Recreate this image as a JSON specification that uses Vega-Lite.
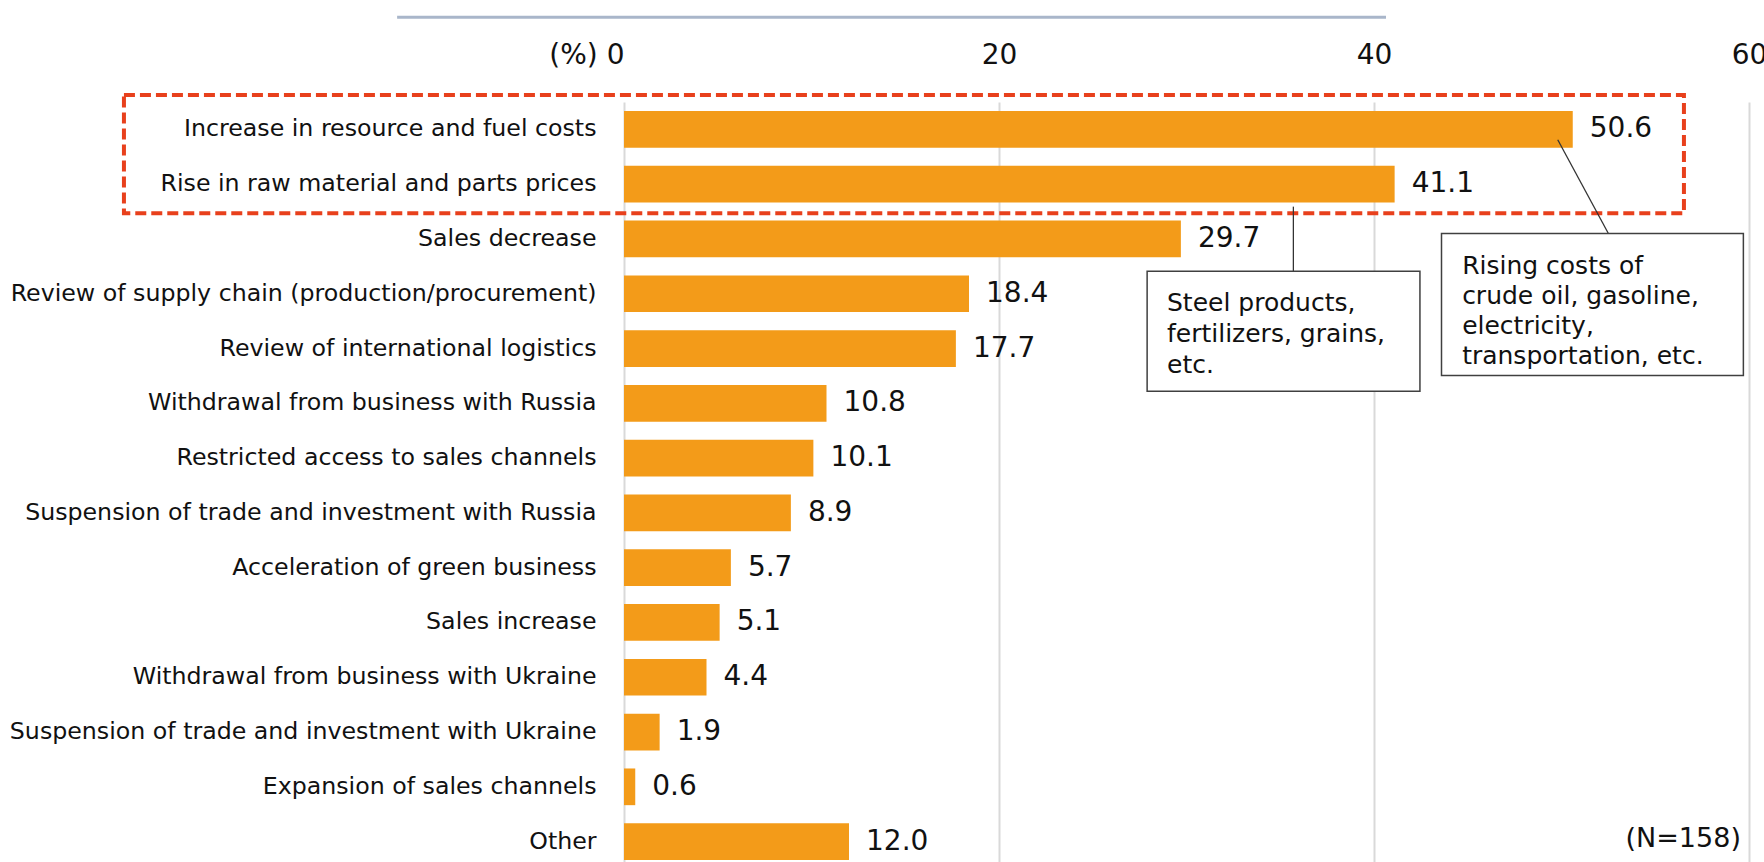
{
  "$schema": "https://vega.github.io/schema/vega-lite/v6.json",
  "width": 1125,
  "height": 760,
  "autosize": {"type": "none"},
  "padding": {"left": 624, "top": 102, "right": 15, "bottom": 0},
  "background": "white",
  "config": {
    "font": "DejaVu Sans",
    "view": {"stroke": null},
    "axis": {"labelFont": "DejaVu Sans", "labelColor": "#111111"}
  },
  "datasets": {
    "bars": [
      {"item": "Increase in resource and fuel costs", "pct": 50.6},
      {"item": "Rise in raw material and parts prices", "pct": 41.1},
      {"item": "Sales decrease", "pct": 29.7},
      {"item": "Review of supply chain (production/procurement)", "pct": 18.4},
      {"item": "Review of international logistics", "pct": 17.7},
      {"item": "Withdrawal from business with Russia", "pct": 10.8},
      {"item": "Restricted access to sales channels", "pct": 10.1},
      {"item": "Suspension of trade and investment with Russia", "pct": 8.9},
      {"item": "Acceleration of green business", "pct": 5.7},
      {"item": "Sales increase", "pct": 5.1},
      {"item": "Withdrawal from business with Ukraine", "pct": 4.4},
      {"item": "Suspension of trade and investment with Ukraine", "pct": 1.9},
      {"item": "Expansion of sales channels", "pct": 0.6},
      {"item": "Other", "pct": 12.0}
    ],
    "highlight": [{"x": -26.67, "x2": 56.53, "y": -0.13, "y2": 2.03}],
    "boxes": [
      {"x": 27.9, "x2": 42.45, "y": 3.09, "y2": 5.28},
      {"x": 43.6, "x2": 59.7, "y": 2.40, "y2": 4.99}
    ],
    "leaders": [
      {"x": 35.7, "x2": 35.7, "y": 1.91, "y2": 3.09},
      {"x": 49.8, "x2": 52.5, "y": 0.69, "y2": 2.40}
    ],
    "titleline": [{"x": -12.1, "x2": 40.64, "y": -1.545, "y2": -1.545}],
    "note1": [{"x": 28.96, "y": 3.67, "t": "Steel products,|fertilizers, grains,|etc."}],
    "note2": [{"x": 44.7, "y": 2.99, "t": "Rising costs of|crude oil, gasoline,|electricity,|transportation, etc."}],
    "nlabel": [{"x": 59.57, "y": 13.45, "t": "(N=158)"}]
  },
  "layer": [
    {
      "data": {"name": "bars"},
      "encoding": {
        "y": {
          "field": "item",
          "type": "nominal",
          "sort": null,
          "scale": {"paddingInner": 0.33, "paddingOuter": 0.165, "range": [0, 767]},
          "axis": {
            "title": null,
            "domain": false,
            "ticks": false,
            "labelFontSize": 23.7,
            "labelPadding": 28,
            "labelLimit": 800
          }
        },
        "x": {
          "field": "pct",
          "type": "quantitative",
          "scale": {"domain": [0, 60], "nice": false, "zero": true},
          "axis": {
            "orient": "top",
            "title": null,
            "values": [0, 20, 40, 60],
            "domain": false,
            "ticks": false,
            "grid": true,
            "gridColor": "#D9D9D9",
            "gridWidth": 2,
            "labelFontSize": 28,
            "labelPadding": 33,
            "labelFlush": false,
            "labelOverlap": false,
            "labelExpr": "datum.value == 0 ? '(%) 0' : datum.label",
            "labelAlign": {"condition": {"test": "datum.value == 0", "value": "right"}, "value": "center"}
          }
        }
      },
      "layer": [
        {"mark": {"type": "bar", "color": "#F39B19"}},
        {
          "mark": {"type": "text", "align": "left", "baseline": "middle", "dx": 17, "fontSize": 28, "color": "#111111"},
          "encoding": {"text": {"field": "pct", "type": "quantitative", "format": ".1f"}}
        }
      ]
    },
    {
      "layer": [
        {
          "data": {"name": "titleline"},
          "mark": {"type": "rule", "color": "#A9B6CA", "strokeWidth": 3},
          "encoding": {
            "x": {"field": "x", "type": "quantitative", "title": null},
            "x2": {"field": "x2"},
            "y": {"field": "y", "type": "quantitative", "axis": null, "scale": {"domain": [0, 14], "range": [0, 767], "nice": false, "zero": false}},
            "y2": {"field": "y2"}
          }
        },
        {
          "data": {"name": "highlight"},
          "mark": {"type": "rect", "fill": null, "fillOpacity": 0, "stroke": "#E8401C", "strokeWidth": 4, "strokeDash": [11, 5]},
          "encoding": {
            "x": {"field": "x", "type": "quantitative", "title": null},
            "x2": {"field": "x2"},
            "y": {"field": "y", "type": "quantitative", "axis": null, "scale": {"domain": [0, 14], "range": [0, 767], "nice": false, "zero": false}},
            "y2": {"field": "y2"}
          }
        },
        {
          "data": {"name": "leaders"},
          "mark": {"type": "rule", "color": "#333333", "strokeWidth": 1.3},
          "encoding": {
            "x": {"field": "x", "type": "quantitative", "title": null},
            "x2": {"field": "x2"},
            "y": {"field": "y", "type": "quantitative", "axis": null, "scale": {"domain": [0, 14], "range": [0, 767], "nice": false, "zero": false}},
            "y2": {"field": "y2"}
          }
        },
        {
          "data": {"name": "boxes"},
          "mark": {"type": "rect", "fill": "white", "stroke": "#404040", "strokeWidth": 1.5},
          "encoding": {
            "x": {"field": "x", "type": "quantitative", "title": null},
            "x2": {"field": "x2"},
            "y": {"field": "y", "type": "quantitative", "axis": null, "scale": {"domain": [0, 14], "range": [0, 767], "nice": false, "zero": false}},
            "y2": {"field": "y2"}
          }
        },
        {
          "data": {"name": "note1"},
          "mark": {"type": "text", "align": "left", "baseline": "middle", "fontSize": 25, "lineBreak": "|", "lineHeight": 31, "color": "#111111"},
          "encoding": {
            "x": {"field": "x", "type": "quantitative", "title": null},
            "y": {"field": "y", "type": "quantitative", "axis": null, "scale": {"domain": [0, 14], "range": [0, 767], "nice": false, "zero": false}},
            "text": {"field": "t"}
          }
        },
        {
          "data": {"name": "note2"},
          "mark": {"type": "text", "align": "left", "baseline": "middle", "fontSize": 25, "lineBreak": "|", "lineHeight": 30, "color": "#111111"},
          "encoding": {
            "x": {"field": "x", "type": "quantitative", "title": null},
            "y": {"field": "y", "type": "quantitative", "axis": null, "scale": {"domain": [0, 14], "range": [0, 767], "nice": false, "zero": false}},
            "text": {"field": "t"}
          }
        },
        {
          "data": {"name": "nlabel"},
          "mark": {"type": "text", "align": "right", "baseline": "middle", "fontSize": 27, "color": "#111111"},
          "encoding": {
            "x": {"field": "x", "type": "quantitative", "title": null},
            "y": {"field": "y", "type": "quantitative", "axis": null, "scale": {"domain": [0, 14], "range": [0, 767], "nice": false, "zero": false}},
            "text": {"field": "t"}
          }
        }
      ]
    }
  ],
  "resolve": {"scale": {"y": "independent"}}
}
